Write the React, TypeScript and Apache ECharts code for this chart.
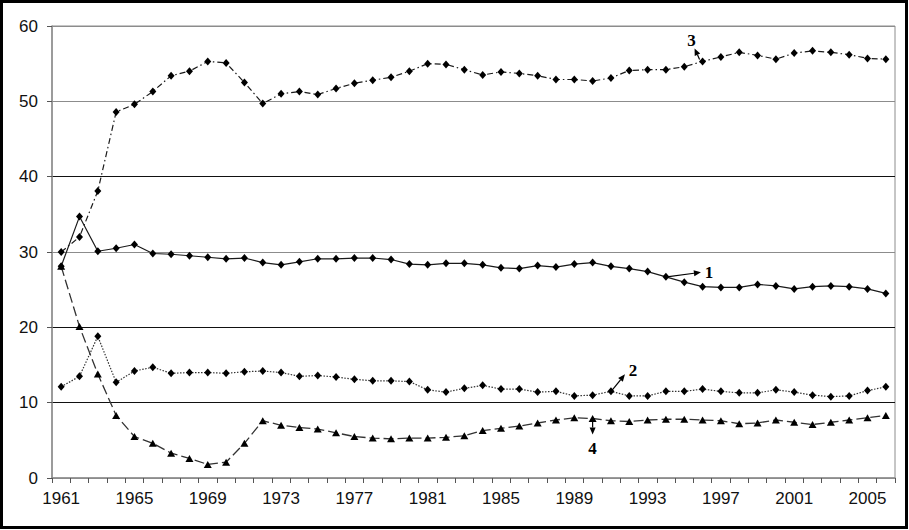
import React, { useEffect, useRef } from "react";
import * as echarts from "echarts";

const years = [
  "1961", "1962", "1963", "1964", "1965", "1966", "1967", "1968", "1969", "1970",
  "1971", "1972", "1973", "1974", "1975", "1976", "1977", "1978", "1979", "1980",
  "1981", "1982", "1983", "1984", "1985", "1986", "1987", "1988", "1989", "1990",
  "1991", "1992", "1993", "1994", "1995", "1996", "1997", "1998", "1999", "2000",
  "2001", "2002", "2003", "2004", "2005", "2006",
];

const series1 = [
  28.1, 34.7, 30.1, 30.5, 31.0, 29.8, 29.7, 29.5, 29.3, 29.1,
  29.2, 28.6, 28.3, 28.7, 29.1, 29.1, 29.2, 29.2, 29.0, 28.4,
  28.3, 28.5, 28.5, 28.3, 27.9, 27.8, 28.2, 28.0, 28.4, 28.6,
  28.1, 27.8, 27.4, 26.7, 26.0, 25.4, 25.3, 25.3, 25.7, 25.5,
  25.1, 25.4, 25.5, 25.4, 25.1, 24.5,
];

const series2 = [
  12.1, 13.5, 18.8, 12.7, 14.2, 14.7, 13.9, 14.0, 14.0, 13.9,
  14.1, 14.2, 14.0, 13.5, 13.6, 13.4, 13.1, 12.9, 12.9, 12.8,
  11.7, 11.4, 11.9, 12.3, 11.8, 11.8, 11.4, 11.5, 10.9, 11.0,
  11.5, 10.9, 10.9, 11.5, 11.5, 11.8, 11.5, 11.3, 11.3, 11.7,
  11.4, 11.0, 10.8, 10.9, 11.6, 12.1,
];

const series3 = [
  30.0, 32.0, 38.1, 48.6, 49.6, 51.3, 53.4, 54.0, 55.3, 55.1,
  52.5, 49.7, 51.0, 51.3, 50.9, 51.7, 52.4, 52.8, 53.2, 54.0,
  55.0, 54.9, 54.2, 53.5, 53.9, 53.7, 53.4, 52.9, 52.9, 52.7,
  53.1, 54.1, 54.2, 54.2, 54.6, 55.3, 55.9, 56.5, 56.1, 55.6,
  56.4, 56.7, 56.5, 56.2, 55.7, 55.6,
];

const series4 = [
  28.1, 20.1, 13.8, 8.3, 5.5, 4.6, 3.3, 2.6, 1.8, 2.1,
  4.6, 7.6, 7.0, 6.7, 6.5, 6.0, 5.5, 5.3, 5.2, 5.3,
  5.3, 5.4, 5.6, 6.3, 6.6, 6.9, 7.3, 7.7, 8.0, 7.9,
  7.6, 7.5, 7.7, 7.8, 7.8, 7.7, 7.6, 7.2, 7.3, 7.7,
  7.4, 7.1, 7.4, 7.7, 8.0, 8.3,
];

const yTicks = [0, 10, 20, 30, 40, 50, 60];

// annotation labels: [label, series values, year]
const annotations = [
  { label: "3", values: series3, year: "1996" },
  { label: "1", values: series1, year: "1994" },
  { label: "2", values: series2, year: "1991" },
  { label: "4", values: series4, year: "1990" },
];

const FONT = "'Liberation Sans', Arial, sans-serif";

function arrow(x1: number, y1: number, x2: number, y2: number) {
  const dx = x2 - x1;
  const dy = y2 - y1;
  const len = Math.sqrt(dx * dx + dy * dy);
  const ux = dx / len;
  const uy = dy / len;
  const hl = 7;
  const hw = 3;
  const bx = x2 - ux * hl;
  const by = y2 - uy * hl;
  const px = -uy;
  const py = ux;
  return [
    {
      type: "line",
      shape: { x1, y1, x2: bx, y2: by },
      style: { stroke: "#000", lineWidth: 1.2 },
      silent: true,
    },
    {
      type: "polygon",
      shape: {
        points: [
          [x2, y2],
          [bx + px * hw, by + py * hw],
          [bx - px * hw, by - py * hw],
        ],
      },
      style: { fill: "#000" },
      silent: true,
    },
  ];
}

function txt(text: string, x: number, y: number) {
  return {
    type: "text",
    silent: true,
    style: {
      text,
      x,
      y,
      font: "bold 17px 'Liberation Serif', 'Times New Roman', serif",
      fill: "#000",
      textAlign: "center",
      textVerticalAlign: "middle",
      align: "center",
      verticalAlign: "middle",
    },
  };
}

export default function App() {
  const ref = useRef<HTMLDivElement>(null);

  useEffect(() => {
    const chart = echarts.init(ref.current!, null, { renderer: "svg" });
    const lineColor = "#1a1a1a";
    chart.setOption({
      animation: false,
      backgroundColor: "#fff",
      grid: {
        left: 52,
        right: 14,
        top: 26,
        bottom: 52,
        show: true,
        borderColor: "#8c8c8c",
        borderWidth: 1,
        backgroundColor: "transparent",
      },
      xAxis: {
        type: "category",
        data: years,
        boundaryGap: true,
        axisLine: { lineStyle: { color: "#8c8c8c", width: 1.5 } },
        axisTick: { show: true, interval: 0, length: 5, lineStyle: { color: "#555" } },
        axisLabel: {
          interval: 3,
          margin: 12,
          color: "#111",
          fontSize: 17,
          fontFamily: FONT,
        },
        splitLine: { show: false },
      },
      yAxis: {
        type: "value",
        min: yTicks[0],
        max: yTicks[yTicks.length - 1],
        interval: 10,
        axisLine: { show: true, lineStyle: { color: "#8c8c8c", width: 1.5 } },
        axisTick: { show: true, length: 5, lineStyle: { color: "#555" } },
        axisLabel: {
          margin: 14,
          color: "#111",
          fontSize: 17,
          fontFamily: FONT,
        },
        splitLine: {
          show: true,
          showMinLine: true,
          lineStyle: {
            width: 1.2,
            color: ["#8c8c8c", "#111", "#111", "#8c8c8c", "#111", "#8c8c8c", "#8c8c8c"],
          },
        },
      },
      series: [
        {
          name: "1",
          type: "line",
          data: series1,
          symbol: "diamond",
          symbolSize: [7, 8],
          itemStyle: { color: "#000" },
          lineStyle: { color: lineColor, width: 1.2, type: "solid" },
          z: 4,
        },
        {
          name: "2",
          type: "line",
          data: series2,
          symbol: "diamond",
          symbolSize: [7, 8],
          itemStyle: { color: "#000" },
          lineStyle: { color: "#333", width: 1.2, type: [1.5, 1.5] },
          z: 3,
        },
        {
          name: "3",
          type: "line",
          data: series3,
          symbol: "diamond",
          symbolSize: [7, 8],
          itemStyle: { color: "#000" },
          lineStyle: { color: lineColor, width: 1.2, type: [6, 3, 1.5, 3] },
          z: 3,
        },
        {
          name: "4",
          type: "line",
          data: series4,
          symbol: "triangle",
          symbolSize: [8, 7],
          itemStyle: { color: "#000" },
          lineStyle: { color: "#333", width: 1.3, type: [10, 4] },
          z: 3,
        },
      ],
    });

    const pt = (values: number[], year: string) => {
      const i = years.indexOf(year);
      return chart.convertToPixel({ gridIndex: 0 }, [i, values[i]]) as number[];
    };

    const graphics: any[] = [];
    // frame
    graphics.push({
      type: "rect",
      silent: true,
      shape: { x: 1.5, y: 1.5, width: 905, height: 526 },
      style: { fill: "none", stroke: "#000", lineWidth: 3 },
      z: 10,
    });

    const [a3, a1, a2, a4] = annotations.map((a) => pt(a.values, a.year));
    // 3
    graphics.push(...arrow(a3[0] - 3, a3[1] - 2, a3[0] - 8, a3[1] - 13));
    graphics.push(txt(annotations[0].label, a3[0] - 11, a3[1] - 21));
    // 1
    graphics.push(...arrow(a1[0] + 1, a1[1], a1[0] + 35, a1[1] - 4.5));
    graphics.push(txt(annotations[1].label, a1[0] + 43, a1[1] - 4));
    // 2
    graphics.push(...arrow(a2[0] + 1, a2[1] - 1, a2[0] + 14, a2[1] - 17));
    graphics.push(txt(annotations[2].label, a2[0] + 22, a2[1] - 21));
    // 4
    graphics.push(...arrow(a4[0], a4[1] + 3, a4[0], a4[1] + 16));
    graphics.push(txt(annotations[3].label, a4[0], a4[1] + 30));

    chart.setOption({ graphic: graphics });

    return () => chart.dispose();
  }, []);

  return (
    <div
      ref={ref}
      style={{ position: "absolute", left: 0, top: 0, width: 909, height: 530, background: "#fff" }}
    />
  );
}
